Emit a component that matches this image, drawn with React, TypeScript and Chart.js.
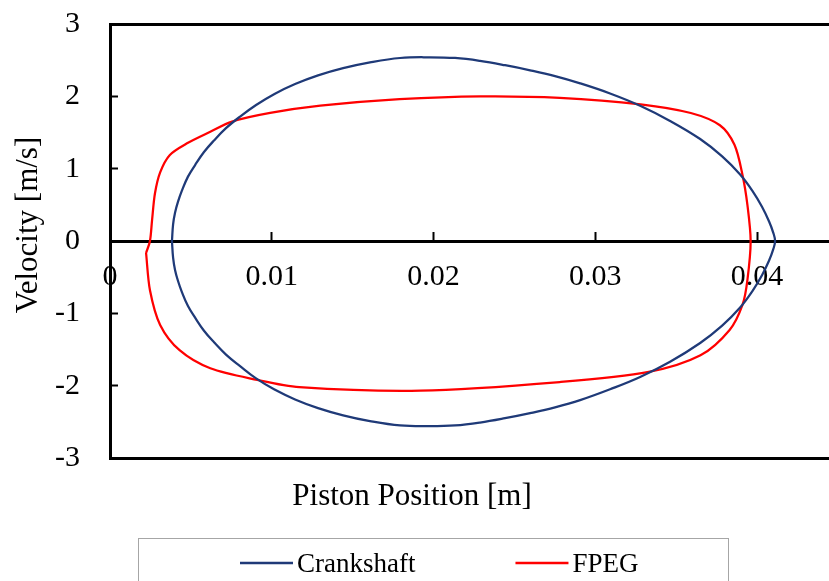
import React, { useEffect, useRef } from "react";
import { Chart, registerables } from "chart.js";

Chart.register(...registerables);

const FONT = '"Liberation Serif", "Times New Roman", serif';

const SERIES_NAMES = ["Crankshaft", "FPEG"];
const SERIES_COLORS = ["#1F3A78", "#FF0000"];

// Crankshaft loop: position [m], velocity [m/s]
const crankX = [
  0.00383, 0.0039, 0.00402, 0.0042, 0.00445, 0.00482, 0.00526, 0.00581, 0.00643, 0.00717,
  0.00804, 0.00903, 0.01014, 0.01144, 0.01286, 0.01441, 0.01607, 0.01793, 0.01978,
  0.02133, 0.02287, 0.02442, 0.02597, 0.02751, 0.02906, 0.03091, 0.03277, 0.03462, 0.03648,
  0.03784, 0.03895, 0.03969, 0.04031, 0.04074, 0.04099, 0.04111,
  0.04099, 0.04074, 0.04031, 0.03969, 0.03895, 0.03784, 0.03648, 0.03462, 0.03277, 0.03091,
  0.02906, 0.02751, 0.02597, 0.02442, 0.02287, 0.02133, 0.01978,
  0.01793, 0.01607, 0.01441, 0.01286, 0.01144, 0.01014, 0.00903, 0.00804, 0.00717, 0.00643,
  0.00581, 0.00526, 0.00482, 0.00445, 0.0042, 0.00402, 0.0039, 0.00383,
];
const crankV = [
  0, 0.23, 0.39, 0.54, 0.7, 0.89, 1.05, 1.23, 1.39, 1.56,
  1.72, 1.88, 2.03, 2.17, 2.29, 2.39, 2.47, 2.53, 2.54,
  2.53, 2.49, 2.43, 2.36, 2.28, 2.18, 2.04, 1.87, 1.66, 1.41,
  1.17, 0.92, 0.7, 0.47, 0.27, 0.12, 0,
  -0.12, -0.27, -0.47, -0.7, -0.92, -1.17, -1.41, -1.67, -1.88, -2.05,
  -2.2, -2.3, -2.38, -2.45, -2.51, -2.55, -2.56,
  -2.55, -2.49, -2.41, -2.31, -2.19, -2.05, -1.9, -1.73, -1.57, -1.4,
  -1.24, -1.06, -0.9, -0.71, -0.55, -0.4, -0.23, 0,
];

// FPEG loop: position [m], velocity [m/s]
const fpegX = [
  0.00223, 0.00247, 0.0026, 0.00278, 0.0031, 0.0037, 0.00476, 0.0062, 0.00754, 0.0099, 0.013,
  0.0179, 0.0229, 0.0278, 0.0328, 0.0359, 0.0377, 0.0386, 0.0391, 0.0394, 0.0396,
  0.0394, 0.0391, 0.0383, 0.0365, 0.0333, 0.0278, 0.0192, 0.0117, 0.0091, 0.0062, 0.0043,
  0.0031, 0.00247, 0.00223,
];
const fpegV = [
  -0.166, 0, 0.29, 0.66, 0.95, 1.19, 1.35, 1.51, 1.65, 1.77, 1.87,
  1.96, 2.0, 1.98, 1.89, 1.77, 1.6, 1.33, 0.91, 0.5, 0,
  -0.54, -0.88, -1.23, -1.58, -1.81, -1.95, -2.07, -2.02, -1.92, -1.76, -1.51,
  -1.16, -0.68, -0.166,
];

const xTickValues = [0, 0.01, 0.02, 0.03, 0.04];
const xTickLabels = ["0", "0.01", "0.02", "0.03", "0.04"];
const yTickValues = [3, 2, 1, 0, -1, -2, -3];
const X_MIN = 0;
const X_MAX = 0.045;
const Y_MIN = -3;
const Y_MAX = 3;
const X_TITLE = "Piston Position [m]";
const Y_TITLE = "Velocity [m/s]";

const toPoints = (xs: number[], ys: number[]) => xs.map((x, i) => ({ x, y: ys[i] }));

const overlayPlugin = {
  id: "overlay",
  afterDraw(chart: any) {
    const ctx = chart.ctx as CanvasRenderingContext2D;
    ctx.save();
    ctx.fillStyle = "#000";
    ctx.font = `31px ${FONT}`;
    ctx.textAlign = "center";
    ctx.textBaseline = "alphabetic";
    ctx.fillText(X_TITLE, 412, 505);
    ctx.save();
    ctx.translate(37, 225);
    ctx.rotate(-Math.PI / 2);
    ctx.fillText(Y_TITLE, 0, 0);
    ctx.restore();

    // legend box
    ctx.strokeStyle = "#A6A6A6";
    ctx.lineWidth = 1;
    ctx.strokeRect(138.5, 538.5, 590, 80);
    ctx.font = `27px ${FONT}`;
    ctx.textAlign = "left";
    let x = 240;
    const ly = 563;
    chart.data.datasets.forEach((ds: any) => {
      ctx.strokeStyle = ds.borderColor;
      ctx.lineWidth = 2.5;
      ctx.beginPath();
      ctx.moveTo(x, ly);
      ctx.lineTo(x + 53, ly);
      ctx.stroke();
      ctx.fillStyle = "#000";
      ctx.fillText(ds.label, x + 57, 572);
      x += 57 + ctx.measureText(ds.label).width + 100;
    });
    ctx.restore();
  },
};

export default function App() {
  const ref = useRef<HTMLCanvasElement | null>(null);

  useEffect(() => {
    if (!ref.current) return;
    const chart = new Chart(ref.current, {
      type: "scatter",
      data: {
        datasets: [
          {
            label: SERIES_NAMES[0],
            data: toPoints(crankX, crankV),
            borderColor: SERIES_COLORS[0],
            backgroundColor: SERIES_COLORS[0],
            borderWidth: 2.25,
            showLine: true,
            pointRadius: 0,
            tension: 0.4,
          },
          {
            label: SERIES_NAMES[1],
            data: toPoints(fpegX, fpegV),
            borderColor: SERIES_COLORS[1],
            backgroundColor: SERIES_COLORS[1],
            borderWidth: 2.25,
            showLine: true,
            pointRadius: 0,
            tension: 0.3,
          },
        ],
      },
      options: {
        responsive: false,
        animation: false,
        layout: { padding: { top: 24, right: 28, bottom: 142, left: 0 } },
        plugins: { legend: { display: false }, tooltip: { enabled: false } },
        scales: {
          x: {
            type: "linear",
            position: "bottom",
            min: X_MIN,
            max: X_MAX,
            ticks: { display: false },
            grid: { display: false, drawTicks: false },
            border: { display: true, color: "#000", width: 3 },
            afterFit: (s: any) => { s.height = 0; },
          },
          xTop: {
            axis: "x",
            type: "linear",
            position: "top",
            min: X_MIN,
            max: X_MAX,
            ticks: { display: false },
            grid: { display: false, drawTicks: false },
            border: { display: true, color: "#000", width: 3 },
            afterFit: (s: any) => { s.height = 0; },
          },
          x2: {
            axis: "x",
            type: "linear",
            position: { y: 0 },
            min: X_MIN,
            max: X_MAX,
            z: 1,
            afterBuildTicks: (s: any) => {
              s.ticks = xTickValues.map((v) => ({ value: v }));
            },
            afterFit: (s: any) => { s.paddingLeft = 0; s.paddingRight = 0; },
            ticks: {
              autoSkip: false,
              maxRotation: 0,
              padding: 29.5,
              color: "#000",
              font: { family: FONT, size: 30 },
              callback: (v: any) => {
                const i = xTickValues.findIndex((t) => Math.abs(t - Number(v)) < 1e-9);
                return i >= 0 ? xTickLabels[i] : "";
              },
            },
            grid: {
              drawOnChartArea: false,
              drawTicks: true,
              tickLength: -11,
              tickWidth: 2,
              tickColor: "#000",
            },
            border: { display: true, color: "#000", width: 3 },
          },
          y: {
            type: "linear",
            position: "left",
            min: Y_MIN,
            max: Y_MAX,
            afterBuildTicks: (s: any) => {
              s.ticks = yTickValues.map((v) => ({ value: v }));
            },
            afterFit: (s: any) => {
              s.width = 110;
              s.paddingTop = 0;
              s.paddingBottom = 0;
            },
            ticks: {
              autoSkip: false,
              padding: 38,
              color: "#000",
              font: { family: FONT, size: 30 },
              callback: (v: any) => String(v),
            },
            grid: {
              drawOnChartArea: false,
              drawTicks: true,
              tickLength: -8,
              tickWidth: 2,
              tickColor: "#000",
            },
            border: { display: true, color: "#000", width: 3 },
          },
        },
      },
      plugins: [overlayPlugin],
    } as any);
    return () => chart.destroy();
  }, []);

  return (
    <div
      style={{
        position: "fixed",
        left: 0,
        top: 0,
        width: 829,
        height: 581,
        overflow: "hidden",
        background: "#fff",
      }}
    >
      <canvas ref={ref} width={866} height={600} style={{ display: "block" }} />
    </div>
  );
}
